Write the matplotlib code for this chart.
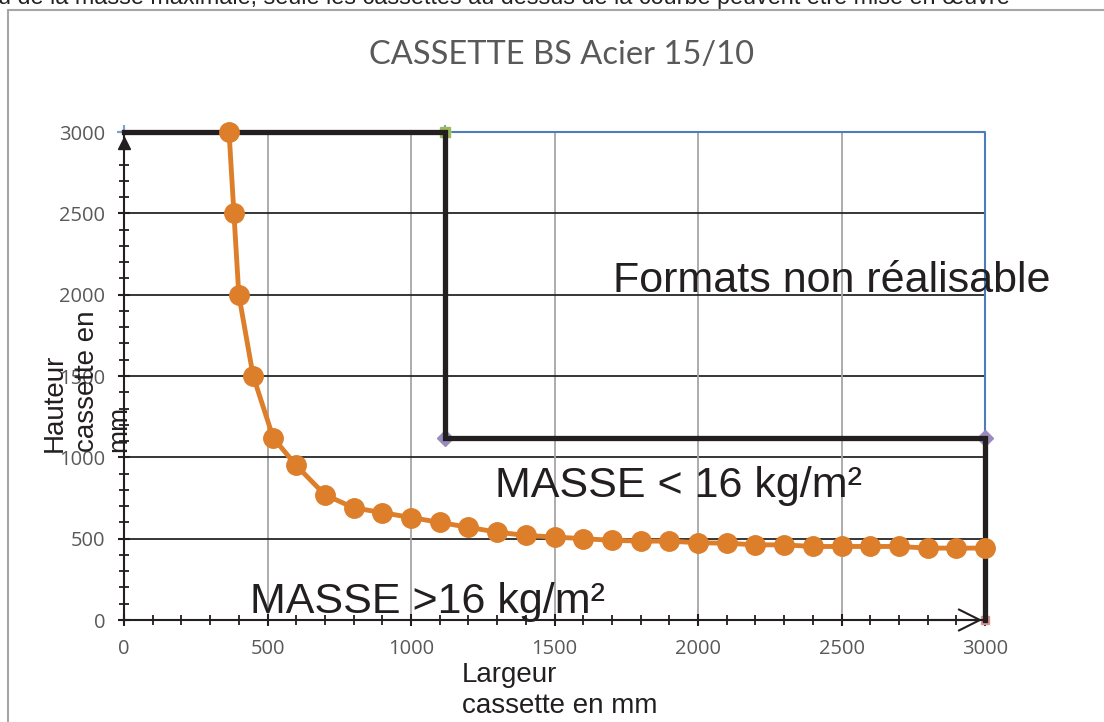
import matplotlib.pyplot as plt
from matplotlib.ticker import MultipleLocator
from matplotlib.patches import Rectangle

# courbe de masse limite (16 kg/m²)
largeur = [366, 383, 400, 450, 520, 600, 700, 800, 900, 1000, 1100, 1200, 1300,
           1400, 1500, 1600, 1700, 1800, 1900, 2000, 2100, 2200, 2300, 2400,
           2500, 2600, 2700, 2800, 2900, 3000]
hauteur = [3000, 2500, 2000, 1500, 1120, 950, 770, 690, 660, 630, 600, 570, 540,
           520, 510, 500, 490, 485, 485, 475, 472, 462, 462, 452, 452, 452, 452,
           442, 442, 442]

# limites des formats réalisables
zone_x = [0, 1120, 1120, 3000, 3000]
zone_y = [3000, 3000, 1120, 1120, 0]
cadre_x = [0, 1120, 3000, 3000]
cadre_y = [3000, 3000, 3000, 1120]
coin_x = [1120, 3000]
coin_y = [1120, 1120]

ticks = [0, 500, 1000, 1500, 2000, 2500, 3000]

fig = plt.figure(figsize=(11.04, 7.22), dpi=100)
W, H = 1104, 722
ax = fig.add_axes([124 / W, (H - 620) / H, 861 / W, 488 / H])
ax.set_xlim(0, 3000)
ax.set_ylim(0, 3000)

# bordure du cadre et texte coupé en haut
fig.patches.append(Rectangle((8 / W, -0.1), 1.2, 1 - 10 / H + 0.1, transform=fig.transFigure,
                             fill=False, edgecolor="#a6a6a6", lw=1.5))
fig.text(-2 / W, 1 - 4 / H,
         "u de la masse maximale, seule les cassettes au dessus de la courbe peuvent être mise en œuvre",
         family="Liberation Sans", fontsize=16.8, va="baseline", ha="left", color="#222222")

# grille
for t in ticks[1:]:
    ax.plot([t, t], [0, 3000], color="#a6a6a6", lw=1.3, zorder=1)
    ax.plot([0, 3000], [t, t], color="#262626", lw=1.3, zorder=1)

ax.plot(cadre_x, cadre_y, color="#4a7ebb", lw=1.5, zorder=2, clip_on=False)
ax.plot(cadre_x[:2], cadre_y[:2], "+", color="#7f9fd0", ms=10, mew=1.5, zorder=2, clip_on=False)
ax.plot(zone_x, zone_y, color="#231f20", lw=3.8, zorder=4, clip_on=False, solid_joinstyle="miter")
ax.plot([1120], [3000], "s", color="#9bbb59", ms=7, zorder=3, clip_on=False)
ax.plot(coin_x, coin_y, "D", color="#9a8bbd", ms=8, zorder=3, clip_on=False)
ax.plot([3000], [0], "s", color="#d99694", ms=6, zorder=3, clip_on=False)

ax.plot(largeur, hauteur, "-o", color="#dd7e2b", lw=3.5, ms=14, zorder=5, clip_on=False)

# flèches des axes
ax.plot([0], [2935], "^", color="#231f20", ms=9, zorder=6, clip_on=False)
ax.annotate("", xy=(3000, 0), xytext=(2800, 0),
            arrowprops=dict(arrowstyle="->", lw=1.5, color="#231f20", mutation_scale=38),
            zorder=6, annotation_clip=False)

for s in ["top", "right"]:
    ax.spines[s].set_visible(False)
for s in ["left", "bottom"]:
    ax.spines[s].set_color("#231f20")
    ax.spines[s].set_linewidth(1.5)
    ax.spines[s].set_zorder(6)

ax.set_xticks(ticks)
ax.set_yticks(ticks)
ax.xaxis.set_minor_locator(MultipleLocator(100))
ax.yaxis.set_minor_locator(MultipleLocator(100))
ax.tick_params(which="major", direction="inout", length=9, width=1.5, color="#231f20",
               labelcolor="#595959", labelsize=14.5, pad=9)
ax.tick_params(which="minor", direction="inout", length=7, width=1.3, color="#231f20")
for lab in ax.get_xticklabels() + ax.get_yticklabels():
    lab.set_family("Open Sans")

fig.text(562 / W, 1 - 55 / H, "CASSETTE BS Acier 15/10", family="Lato", fontsize=23.5,
         color="#595959", ha="center", va="center")

txt = dict(family="Liberation Sans", fontsize=31, color="#231f20", va="baseline", ha="left", zorder=7)
ax.text(1704, 2016, "Formats non réalisable", **txt)
ax.text(1293, 756, "MASSE < 16 kg/m²", **txt)
ax.text(439, 43, "MASSE >16 kg/m²", **txt)

fig.text(462 / W, 1 - 662 / H, "Largeur\ncassette en mm", family="Liberation Sans",
         fontsize=20, color="#231f20", ha="left", va="top", multialignment="left",
         linespacing=1.25)
fig.text(42 / W, 1 - 452 / H, "Hauteur\ncassette en\nmm", family="Liberation Sans",
         fontsize=20, color="#231f20", ha="left", va="bottom", rotation=90,
         multialignment="left", linespacing=1.3)

fig.savefig("out.png", dpi=100)
